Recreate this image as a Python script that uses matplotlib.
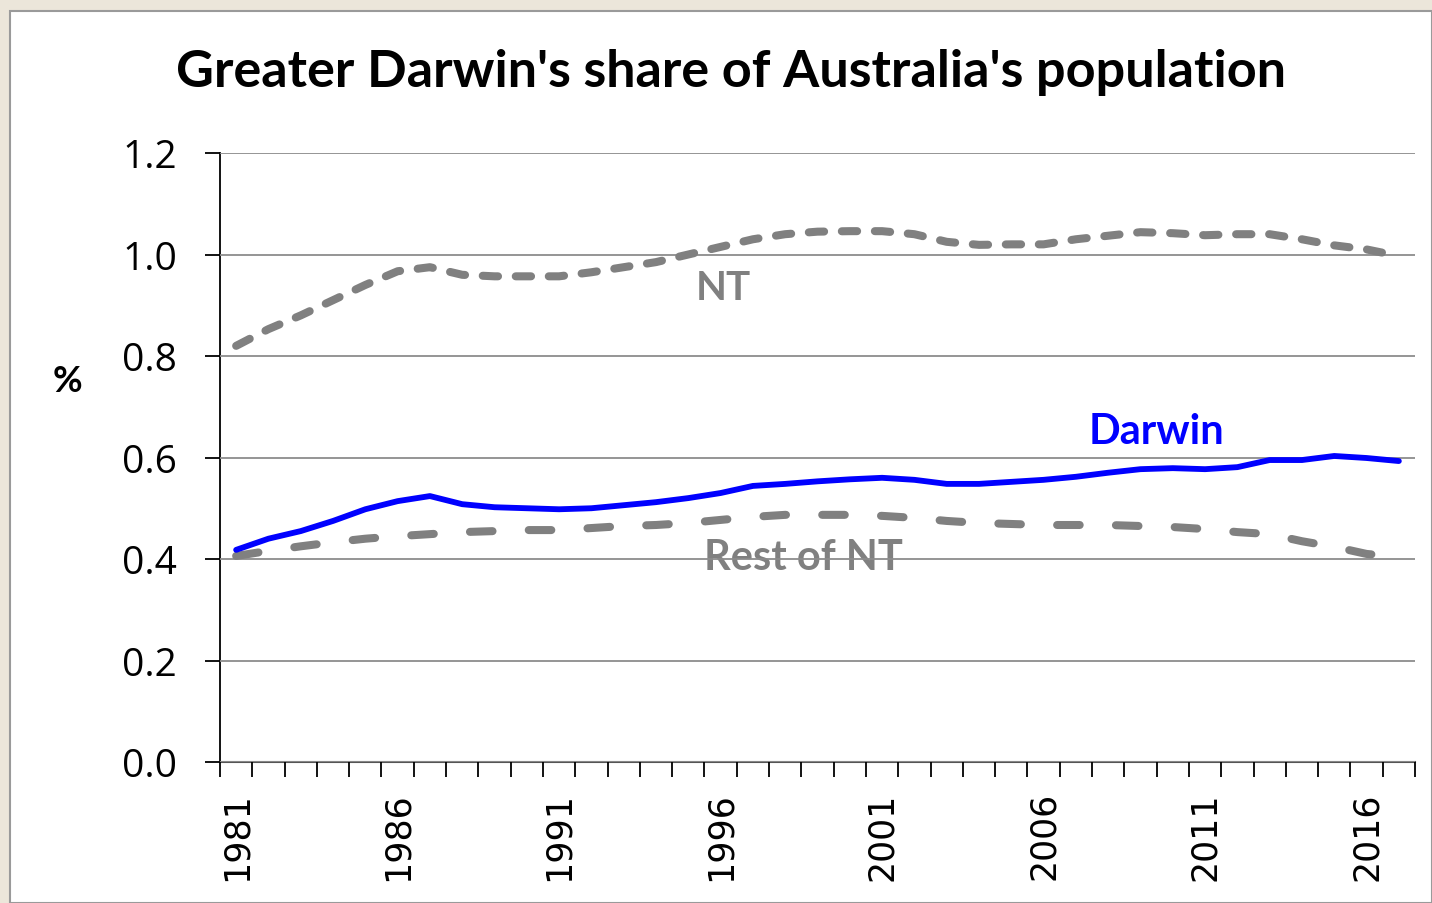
import numpy as np
import matplotlib.pyplot as plt
from matplotlib.patches import Rectangle

years = list(range(1981, 2018))
nt = [0.820, 0.853, 0.880, 0.910, 0.940, 0.967, 0.975, 0.960, 0.957, 0.957,
      0.957, 0.965, 0.975, 0.985, 1.000, 1.015, 1.030, 1.040, 1.045, 1.046,
      1.046, 1.040, 1.025, 1.019, 1.020, 1.020, 1.030, 1.037, 1.044, 1.042,
      1.038, 1.040, 1.040, 1.030, 1.018, 1.010, 0.997]
darwin = [0.418, 0.440, 0.455, 0.475, 0.498, 0.514, 0.524, 0.508, 0.502, 0.500,
          0.498, 0.500, 0.506, 0.512, 0.520, 0.530, 0.544, 0.548, 0.553, 0.557,
          0.560, 0.556, 0.548, 0.548, 0.552, 0.556, 0.562, 0.570, 0.577, 0.579,
          0.577, 0.581, 0.595, 0.595, 0.603, 0.599, 0.593]
rest_nt = [0.406, 0.416, 0.425, 0.433, 0.440, 0.445, 0.449, 0.453, 0.455, 0.457,
           0.457, 0.461, 0.465, 0.467, 0.471, 0.477, 0.483, 0.487, 0.487, 0.487,
           0.485, 0.481, 0.475, 0.471, 0.469, 0.467, 0.467, 0.467, 0.465, 0.463,
           0.459, 0.453, 0.449, 0.435, 0.424, 0.410, 0.404]
yticks = [0.0, 0.2, 0.4, 0.6, 0.8, 1.0, 1.2]
label_years = [1981, 1986, 1991, 1996, 2001, 2006, 2011, 2016]

gray = "#808080"
blue = "#0000ff"
label_font = ["Lato", "DejaVu Sans"]

fig = plt.figure(figsize=(14.32, 9.04), dpi=100, facecolor="#ece6da")
fig.patches.append(Rectangle((10 / 1432, 0), 1 - 10 / 1432, 1 - 12 / 904,
                             transform=fig.transFigure, facecolor="white",
                             edgecolor="#9a9a9a", linewidth=1.5, zorder=-5))
ax = fig.add_axes([220 / 1432, 1 - 763 / 904, 1195 / 1432, (763 - 154) / 904])
ax.set_facecolor("none")

x = np.arange(len(years))
ax.plot(x, nt, color=gray, lw=5.8, dashes=(1.9, 2.2), dash_capstyle="round", zorder=3)
ax.plot(x, rest_nt, color=gray, lw=5.8, dashes=(2.8, 4.5), dash_capstyle="round", zorder=3)
ax.plot(x, darwin, color=blue, lw=4.2, solid_capstyle="round", zorder=4)

ax.set_xlim(-0.5, len(years) - 0.5)
ax.set_ylim(0, 1.2)
ax.set_yticks(yticks)
ax.set_yticklabels([f"{v:.1f}" for v in yticks], fontsize=28, family="Open Sans")
ax.grid(axis="y", color="#8c8c8c", lw=1.3, zorder=2)
ax.set_axisbelow(False)

ax.set_xticks([years.index(y) for y in label_years])
ax.set_xticklabels([str(y) for y in label_years], rotation=90, fontsize=25,
                   family="DejaVu Sans", va="top")
ax.set_xticks(np.arange(-0.5, len(years)), minor=True)
ax.tick_params(axis="x", which="major", length=0, pad=21)
ax.tick_params(axis="x", which="minor", length=11, width=1.3, direction="out")
ax.tick_params(axis="y", length=11, width=1.3, pad=20)

for s in ["top", "right"]:
    ax.spines[s].set_visible(False)
ax.spines["left"].set_linewidth(1.3)
ax.spines["bottom"].set_linewidth(1.5)
ax.spines["bottom"].set_color("#555555")

ax.text(years.index(1996) + 0.1, 0.935, "NT", color=gray, fontsize=29,
        fontweight="bold", family=label_font, ha="center", va="center", zorder=1)
ax.text(years.index(2009) + 0.5, 0.652, "Darwin", color=blue, fontsize=30,
        fontweight="bold", family=label_font, ha="center", va="center", zorder=1)
ax.text(years.index(1998) + 0.55, 0.404, "Rest of NT", color=gray, fontsize=30,
        fontweight="bold", family=label_font, ha="center", va="center", zorder=1)

fig.text(67 / 1432, 1 - 382 / 904, "%", fontsize=26, fontweight="bold",
         family=label_font, ha="center", va="center")
fig.text(731 / 1432, 1 - 72 / 904, "Greater Darwin's share of Australia's population",
         fontsize=37.5, fontweight="bold", family=label_font, ha="center", va="center")

fig.savefig("out.png", dpi=100, facecolor=fig.get_facecolor())
